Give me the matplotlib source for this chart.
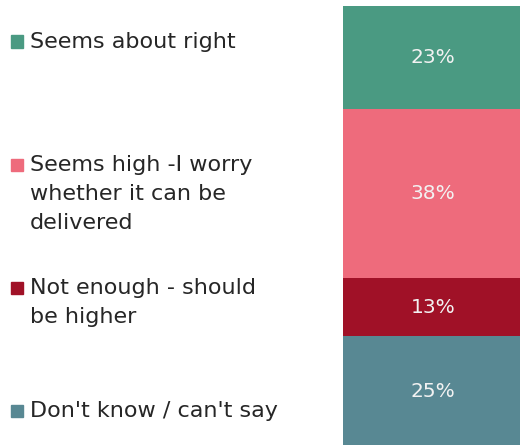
import matplotlib.pyplot as plt
from matplotlib.patches import Rectangle

categories = [
    "Seems about right",
    "Seems high -I worry\nwhether it can be\ndelivered",
    "Not enough - should\nbe higher",
    "Don't know / can't say",
]
shares = [23, 38, 13, 25]
colors = ["#4A9A82", "#EE6B7C", "#A01127", "#588893"]

# baseline of the first line of each legend entry, pixels from the top
legend_base = [49, 172, 295, 418]

plt.rcParams["font.family"] = ["DejaVu Sans"]

W, H = 520, 445
fig = plt.figure(figsize=(W / 100, H / 100), dpi=100)
ax = fig.add_axes([0, 0, 1, 1])

# one bar, segments stacked downwards from the top
bottom = 0
for value, color in zip(shares, colors):
    ax.bar(0, value, width=1, bottom=bottom, color=color, align="center")
    ax.text(0, bottom + value / 2, f"{value}%", ha="center", va="center",
            color="#F2F2F2", fontsize=14.5)
    bottom += value

ax.set_xlim(-2.406, 0.483)
ax.set_ylim(98.4, -1.35)
ax.axis("off")

for label, color, base in zip(categories, colors, legend_base):
    mid = base - 7.5
    fig.patches.append(Rectangle((11 / W, 1 - (mid + 6) / H), 12 / W, 12 / H,
                                 transform=fig.transFigure, color=color))
    # top of the text box sits about one ascent above the first baseline
    fig.text(30 / W, 1 - (base - 17) / H, label, ha="left", va="top",
             color="#262626", fontsize=16, linespacing=1.55)

fig.savefig("out.png", dpi=100)
